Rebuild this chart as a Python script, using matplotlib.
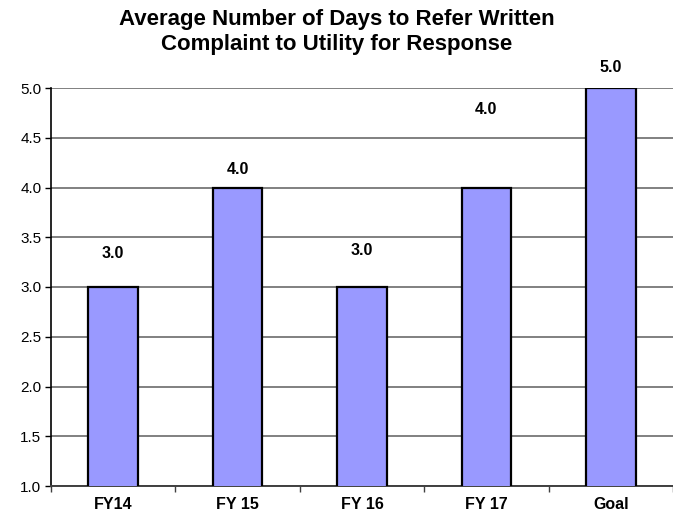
import matplotlib
matplotlib.use("Agg")
import matplotlib.pyplot as plt
import numpy as np

categories = ["FY14", "FY 15", "FY 16", "FY 17", "Goal"]
days = [3.0, 4.0, 3.0, 4.0, 5.0]
# how far above each bar its value label sits (points)
label_lift = [24, 13, 26, 56, 15]

plt.rcParams['font.family'] = ['Liberation Sans', 'DejaVu Sans']

fig = plt.figure(figsize=(6.73, 5.15), dpi=100)
ax = fig.add_axes([51 / 673, 29 / 515, 1 - 51 / 673, (486 - 88) / 515])

x = np.arange(len(categories))
ax.bar(x, days, width=0.4, bottom=0, color="#9999FF", edgecolor="black",
       linewidth=1.6, zorder=3)

for xi, v, lift in zip(x, days, label_lift):
    ax.annotate(f"{v:.1f}", (xi, v), xytext=(0, lift), textcoords="offset points",
                ha="center", va="center", fontsize=11.5, fontweight="bold",
                annotation_clip=False)

ax.set_xlim(-0.5, len(categories) - 0.5)
ax.set_ylim(1.0, 5.0)
ax.set_yticks(np.arange(1.0, 5.01, 0.5))
ax.set_yticklabels([f"{t:.1f}" for t in np.arange(1.0, 5.01, 0.5)], fontsize=11)
ax.set_xticks(x)
ax.set_xticklabels(categories, fontsize=11.5, fontweight="bold")
ax.set_xticks(np.arange(-0.5, len(categories)), minor=True)
ax.tick_params(axis="x", which="major", length=0, pad=8)
ax.tick_params(axis="x", which="minor", length=4, width=1, color="#404040")
ax.tick_params(axis="y", length=4, width=1, pad=3)

ax.yaxis.grid(True, color="#808080", linewidth=1.4, zorder=0)
ax.set_axisbelow(True)
for s in ["top", "right"]:
    ax.spines[s].set_visible(False)
ax.spines["left"].set_linewidth(1.2)
ax.spines["bottom"].set_color("#404040")
ax.spines["bottom"].set_linewidth(1.4)

fig.suptitle("Average Number of Days to Refer Written\nComplaint to Utility for Response",
             x=0.5, y=0.982, va="top", fontsize=16, fontweight="bold", linespacing=1.25)

fig.savefig("out.png", dpi=100)
